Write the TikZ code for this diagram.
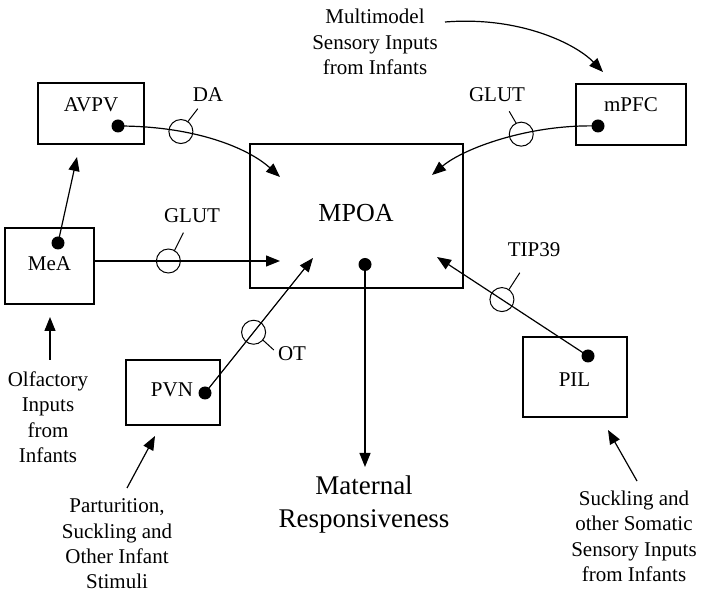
\documentclass[tikz,border=0pt]{standalone}
\usepackage{fontspec}
\setmainfont{Liberation Serif}
\usetikzlibrary{arrows.meta,calc}
\begin{document}
\begin{tikzpicture}[x=1pt,y=-1pt,
  every node/.style={inner sep=0pt,outer sep=0pt},
  region/.style={draw,line width=1.1pt,fill=white},
  lbl/.style={font=\fontsize{21}{25.5}\selectfont,anchor=base},
  big/.style={font=\fontsize{27}{33}\selectfont,anchor=base},
  dot/.style={circle,fill=black,minimum size=13pt},
  syn/.style={circle,draw,line width=1pt,fill=none,minimum size=24pt},
  tick/.style={line width=1pt},
  conn/.style={line width=1.2pt,-{Triangle[length=14pt,width=11pt]}}
]
\useasboundingbox (0,0) rectangle (705,593);

% brain regions
\node[region,minimum width=106pt,minimum height=61pt] (avpv) at (91,113.5) {};
\node[region,minimum width=89pt,minimum height=76pt] (mea) at (49.5,266) {};
\node[region,minimum width=213pt,minimum height=144pt] (mpoa) at (356.5,216) {};
\node[region,minimum width=110pt,minimum height=61pt] (mpfc) at (631,114.5) {};
\node[region,minimum width=94pt,minimum height=65pt] (pvn) at (173,392.5) {};
\node[region,minimum width=104pt,minimum height=80pt] (pil) at (575,377) {};

\node[lbl] (avpvT) at (91,112) {AVPV};
\node[lbl] (meaT) at (49.5,271) {MeA};
\node[big,font=\fontsize{26}{33}\selectfont] (mpoaT) at (356,222) {MPOA};
\node[lbl] (mpfcT) at (631,112) {mPFC};
\node[lbl] (pvnT) at (172,397) {PVN};
\node[lbl] (pilT) at (574.5,387) {PIL};

% projection origins
\node[dot] (avpvD) at (118,126) {};
\node[dot] (meaD) at (58,243) {};
\node[dot] (mpoaD) at (365,264.5) {};
\node[dot] (mpfcD) at (598,126) {};
\node[dot] (pvnD) at (205,393) {};
\node[dot] (pilD) at (588,356) {};

% projection targets inside MPOA and AVPV
\coordinate (tA) at (280,177);
\coordinate (tG) at (280,261);
\coordinate (tM) at (432,175);
\coordinate (tO) at (313,258);
\coordinate (tT) at (437,257);
\coordinate (tAV) at (77,157);
\coordinate (tOut) at (365,467);
\coordinate (meaR) at (94,261);

% projections
\draw[conn] (avpvD.center) .. controls (195,126) and (248,148) .. (tA)
  node[syn,pos=0.3] (cDA) {};
\draw[conn] (meaR) -- (tG) node[syn,pos=0.4] (cG1) {};
\draw[conn] (mpfcD.center) .. controls (530,124) and (464,148) .. (tM)
  node[syn,pos=0.39] (cG2) {};
\draw[conn] (pvnD.center) -- (tO) node[syn,pos=0.45] (cOT) {};
\draw[conn] (pilD.center) -- (tT) node[syn,pos=0.57] (cTIP) {};
\draw[conn] (meaD.center) -- (tAV);
\draw[conn] (mpoaD.center) -- (tOut);

% transmitter labels
\node[lbl] (DA) at (208,102) {DA};
\node[lbl] (GLUT1) at (192,223) {GLUT};
\node[lbl] (GLUT2) at (497,102) {GLUT};
\node[lbl] (TIP) at (534,257) {TIP39};
\node[lbl] (OT) at (292,361) {OT};
\draw[tick] (cDA.55) -- ($(cDA.55)+(10,-13)$);
\draw[tick] (cG1.60) -- ($(cG1.60)+(9,-18)$);
\draw[tick] (cG2.115) -- ($(cG2.115)+(-7,-12)$);
\draw[tick] (cTIP.55) -- ($(cTIP.55)+(11,-17)$);
\draw[tick] (cOT.-40) -- ($(cOT.-40)+(11,10)$);

% sensory inputs (base anchor sits on the last line)
\node[lbl,align=center] (multi) at (375,75) {Multimodel\\Sensory Inputs\\from Infants};
\coordinate (multiE) at (445,22);
\coordinate (mpfcIn) at (603,72);
\draw[conn] (multiE) .. controls (520,16) and (576,44) .. (mpfcIn);

\node[lbl,align=center] (olf) at (48,463) {Olfactory\\Inputs\\from\\Infants};
\coordinate (olfS) at (50,360);
\coordinate (olfE) at (50,317);
\draw[conn] (olfS) -- (olfE);

\node[lbl,align=center] (part) at (117,589) {Parturition,\\Suckling and\\Other Infant\\Stimuli};
\coordinate (partS) at (127,488);
\coordinate (partE) at (155,436);
\draw[conn] (partS) -- (partE);

\node[lbl,align=center] (suck) at (634,582) {Suckling and\\other Somatic\\Sensory Inputs\\from Infants};
\coordinate (suckS) at (637,481);
\coordinate (suckE) at (608,430);
\draw[conn] (suckS) -- (suckE);

\node[big,align=center] (mat) at (364,528) {Maternal\\Responsiveness};
\end{tikzpicture}
\end{document}
